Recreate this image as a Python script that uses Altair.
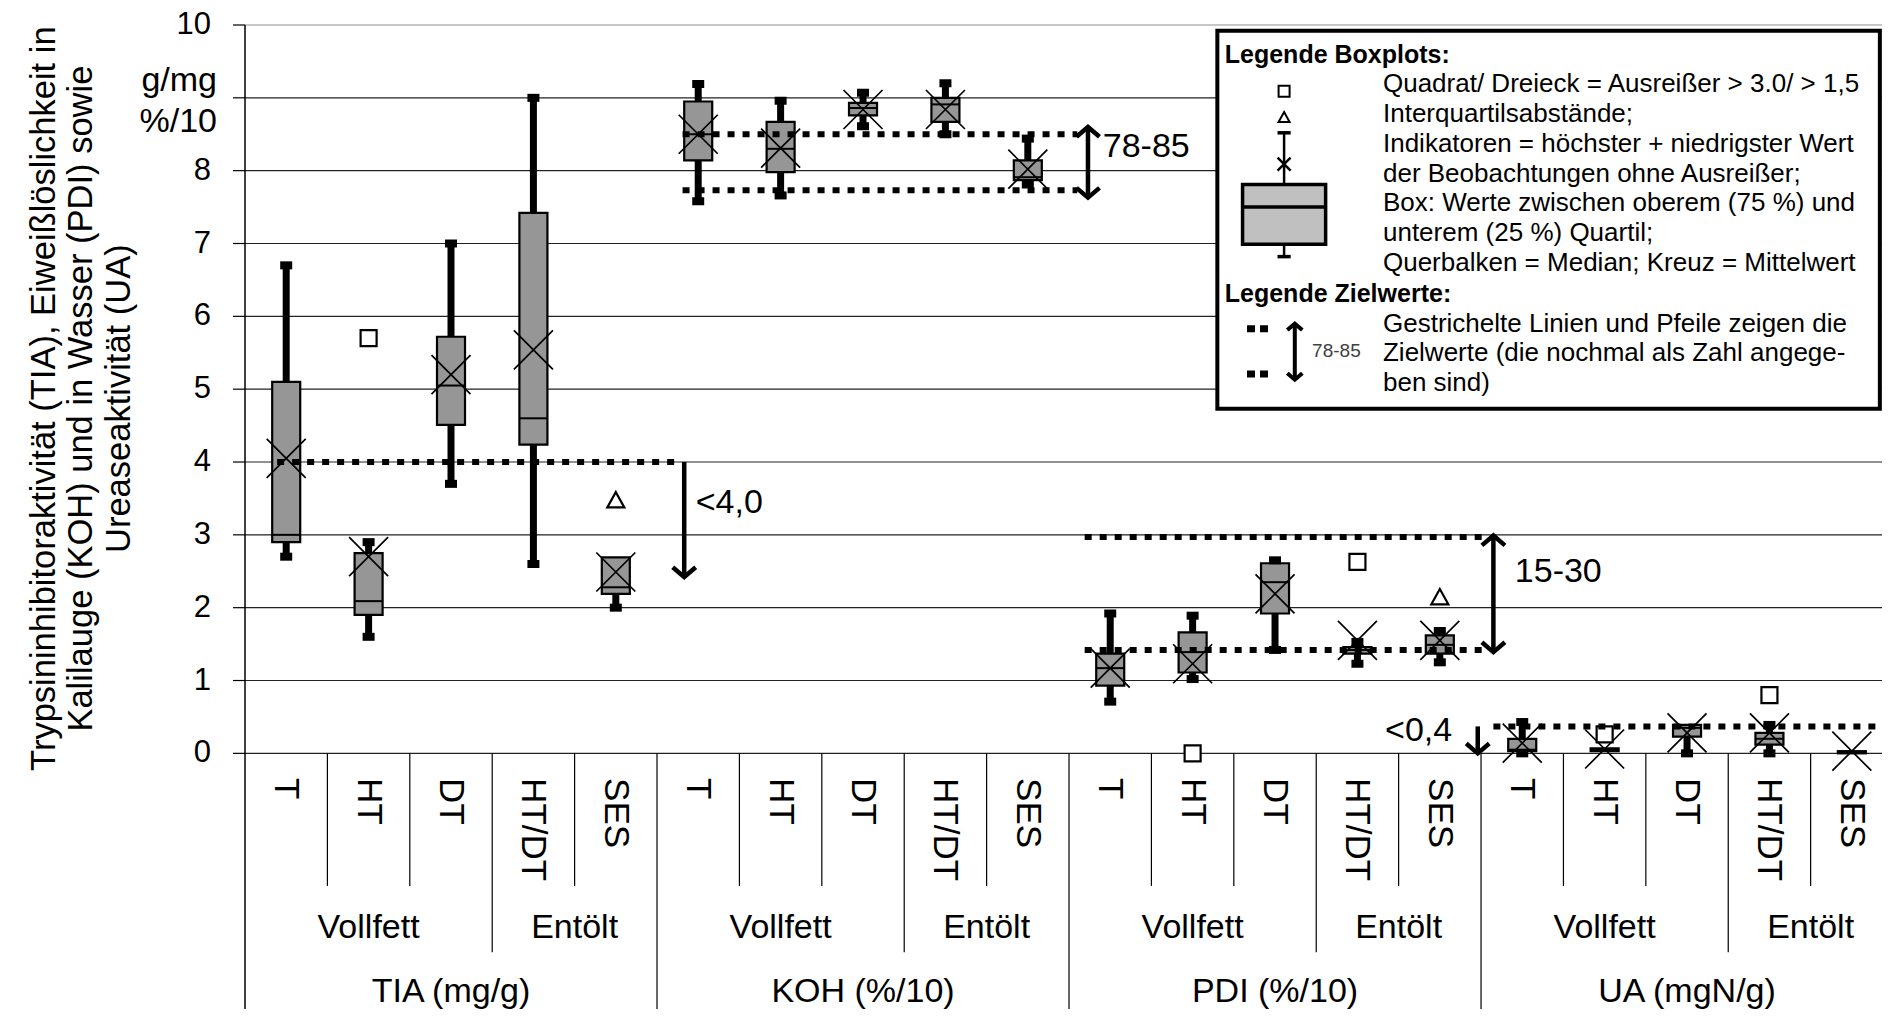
import altair as alt
import pandas as pd

# ---------------- categories ----------------
measures = ["TIA (mg/g)", "KOH (%/10)", "PDI (%/10)", "UA (mgN/g)"]
treatments = ["T", "HT", "DT", "HT/DT", "SES"]
fat_groups = ["Vollfett", "Entölt"]

# ---------------- boxplot statistics (measure x treatment, 20 boxes) ----------------
whisker_low = [2.7, 1.6, 3.7, 2.6, 2.0,
               7.58, 7.66, 8.61, 8.5, 7.81,
               0.71, 1.02, 1.42, 1.23, 1.25,
               0.0, 0.03, 0.0, 0.0, 0.0]
quart1 = [2.9, 1.9, 4.51, 4.24, 2.19,
          8.14, 7.98, 8.76, 8.67, 7.87,
          0.93, 1.11, 1.92, 1.37, 1.37,
          0.03, 0.03, 0.23, 0.12, 0.0]
median = [3.0, 2.09, 5.05, 4.6, 2.28,
          8.5, 8.3, 8.86, 8.91, 7.91,
          1.17, 1.39, 2.35, 1.42, 1.49,
          0.05, 0.05, 0.35, 0.2, 0.02]
quart3 = [5.1, 2.75, 5.72, 7.42, 2.69,
          8.95, 8.67, 8.93, 9.0, 8.14,
          1.37, 1.66, 2.61, 1.46, 1.62,
          0.2, 0.07, 0.39, 0.28, 0.03]
whisker_high = [6.7, 2.9, 7.0, 9.0, 2.69,
                9.19, 8.96, 9.07, 9.2, 8.44,
                1.92, 1.89, 2.65, 1.53, 1.68,
                0.43, 0.07, 0.39, 0.39, 0.03]
mean_val = [4.05, 2.7, 5.2, 5.54, 2.49,
            8.5, 8.31, 8.84, 8.84, 8.02,
            1.17, 1.23, 2.19, 1.55, 1.55,
            0.14, 0.06, 0.28, 0.28, 0.03]

# outliers (box index, value)
extreme_box = [1, 11, 13, 16, 18]
extreme_val = [5.7, 0.0, 2.63, 0.26, 0.8]
mild_box = [4, 14]
mild_val = [3.47, 2.14]

# ---------------- target values (Zielwerte) ----------------
target_y = [4.0, 8.5, 7.73, 2.97, 1.42, 0.37]
target_from = [0.39, 5.31, 5.31, 10.19, 10.19, 15.15]
target_to = [5.23, 10.1, 10.1, 15.02, 15.02, 19.86]

arrow_x = [5.33, 10.23, 15.15, 14.96]
arrow_start = [4.0, 8.6, 2.99, 0.37]
arrow_end = [2.42, 7.63, 1.39, 0.0]
arrow_double = [False, True, True, False]

target_text = ["<4,0", "78-85", "15-30", "<0,4"]
target_text_x = [5.47, 10.41, 15.41, 14.65]
target_text_y = [3.44, 8.32, 2.49, 0.30]
target_text_right = [False, False, False, True]

y_ticks = list(range(0, 11))
y_tick_labels = ["0", "1", "2", "3", "4", "5", "6", "7", "8", "", "10"]
y_unit_labels = ["g/mg", "%/10"]
y_title = ["Trypsininhibitoraktivität  (TIA), Eiweißlöslichkeit  in",
           "Kalilauge (KOH) und in Wasser (PDI) sowie",
           "Ureaseaktivität (UA)"]

legend_lines_box = ["Quadrat/ Dreieck = Ausreißer > 3.0/  > 1,5",
                    "Interquartilsabstände;",
                    "Indikatoren = höchster + niedrigster Wert",
                    "der Beobachtungen ohne Ausreißer;",
                    "Box: Werte zwischen oberem (75 %)  und",
                    "unterem (25 %) Quartil;",
                    "Querbalken = Median; Kreuz = Mittelwert"]
legend_lines_target = ["Gestrichelte Linien und Pfeile zeigen die",
                       "Zielwerte (die nochmal als Zahl angege-",
                       "ben sind)"]
legend_heads = ["Legende Boxplots:", "Legende Zielwerte:"]

# ---------------- build tables ----------------
n = len(median)
pos = [i + 0.5 for i in range(n)]
box_df = pd.DataFrame(dict(pos=pos, wl=whisker_low, q1=quart1, med=median,
                           q3=quart3, wh=whisker_high, mean=mean_val))
cap_rows = []
for i in range(n):
    if whisker_low[i] < quart1[i]:
        cap_rows.append(dict(pos=pos[i], v=whisker_low[i]))
    if whisker_high[i] > quart3[i]:
        cap_rows.append(dict(pos=pos[i], v=whisker_high[i]))
cap_df = pd.DataFrame(cap_rows)
ext_df = pd.DataFrame(dict(pos=[pos[i] for i in extreme_box], v=extreme_val))
mild_df = pd.DataFrame(dict(pos=[pos[i] for i in mild_box], v=mild_val))

tgt_df = pd.DataFrame(dict(x1=target_from, x2=target_to, y=target_y))
arr_df = pd.DataFrame(dict(x=arrow_x, y1=arrow_start, y2=arrow_end))
head_rows = []
for i in range(len(arrow_x)):
    head_rows.append(dict(x=arrow_x[i], y=arrow_end[i], ang=0))
    if arrow_double[i]:
        head_rows.append(dict(x=arrow_x[i], y=arrow_start[i], ang=180))
head_df = pd.DataFrame(head_rows)
ttxt = pd.DataFrame(dict(t=target_text, x=target_text_x, y=target_text_y, r=target_text_right))

# ---------------- scales / helpers ----------------
XMAX = 19.866
ROW1_Y, ROW2_Y, ROW3_Y, BOTTOM = -0.34, -2.40, -3.28, -3.51
XS = alt.Scale(domain=[0, XMAX], nice=False, zero=False)
YS = alt.Scale(domain=[BOTTOM, 10], nice=False, zero=False)
FONT = "Liberation Sans"
PX_X = 1 / 82.4     # one pixel in x units (layout helper)


def X(f):
    return alt.X(f, type="quantitative", scale=XS, axis=None)


def Y(f):
    return alt.Y(f, type="quantitative", scale=YS, axis=None)


CAP = "M-1.5,-1L1.5,-1L1.5,1L-1.5,1Z"
XMARK = "M-1,-1L1,1M-1,1L1,-1"
SQUARE = "M-1,-1L1,-1L1,1L-1,1Z"
TRI = "M0,-1L1,0.8L-1,0.8Z"
CHEV = "M-1,-0.85L0,0L1,-0.85"

# ---------------- y axis (grid, ticks, labels, domain, title) ----------------
ax_df = pd.DataFrame(dict(v=y_ticks, lab=y_tick_labels))
ax_df["g0"] = 0.0
ax_df["g1"] = XMAX
ax_df["t0"] = -12 * PX_X
ax_df["lx"] = -34 * PX_X
ax_df["top"] = ax_df["v"] == 10
grid = alt.Chart(ax_df).mark_rule(strokeWidth=1.2).encode(
    x=X("g0"), x2="g1:Q", y=Y("v"),
    color=alt.condition("datum.top", alt.value("#909090"), alt.value("#222222")))
ticks = alt.Chart(ax_df).mark_rule(color="black", strokeWidth=1.2).encode(
    x=X("t0"), x2="g0:Q", y=Y("v"))
tlabels = alt.Chart(ax_df).mark_text(fontSize=31, align="right", baseline="middle",
                                     color="black").encode(x=X("lx"), y=Y("v"), text="lab:N")
domain = alt.Chart(pd.DataFrame(dict(x=[0.0], a=[BOTTOM], b=[10.0]))).mark_rule(
    color="black", strokeWidth=1.5).encode(x=X("x"), y=Y("a"), y2="b:Q")
unit_lbl = alt.Chart(pd.DataFrame(dict(t=y_unit_labels, x=[-28 * PX_X] * 2, y=[9.23, 8.67]))).mark_text(
    fontSize=34, align="right", baseline="middle", color="black").encode(
    x=X("x"), y=Y("y"), text="t:N")
title_df = pd.DataFrame(dict(t=y_title, x=[-200 * PX_X, -163 * PX_X, -125 * PX_X], y=[4.87] * 3))
ytitle = alt.Chart(title_df).mark_text(fontSize=34.5, angle=270, align="center", baseline="middle",
                                       color="black").encode(x=X("x"), y=Y("y"), text="t:N")

# ---------------- boxplots ----------------
whisk = alt.Chart(box_df).mark_rule(color="black", strokeWidth=7).encode(
    x=X("pos"), y=Y("wl"), y2="wh:Q")
boxes = alt.Chart(box_df).transform_calculate(
    xl="datum.pos - 0.17", xr="datum.pos + 0.17"
).mark_rect(fill="#969696", stroke="black", strokeWidth=2.2).encode(
    x=X("xl"), x2="xr:Q", y=Y("q1"), y2="q3:Q")
meds = alt.Chart(box_df).transform_calculate(
    xl="datum.pos - 0.17", xr="datum.pos + 0.17"
).mark_rule(color="black", strokeWidth=2).encode(x=X("xl"), x2="xr:Q", y=Y("med"))
caps = alt.Chart(cap_df).mark_point(shape=CAP, size=64, filled=True, fill="black",
                                    opacity=1, strokeWidth=0).encode(x=X("pos"), y=Y("v"))
means = alt.Chart(box_df).mark_point(shape=XMARK, size=1521, filled=False, stroke="black",
                                     strokeWidth=1.7, opacity=1).encode(x=X("pos"), y=Y("mean"))
ext = alt.Chart(ext_df).mark_point(shape=SQUARE, size=256, filled=True, fill="white",
                                   stroke="black", strokeWidth=2.2, opacity=1).encode(x=X("pos"), y=Y("v"))
mild = alt.Chart(mild_df).mark_point(shape=TRI, size=289, filled=True, fill="white",
                                     stroke="black", strokeWidth=2.2, opacity=1).encode(x=X("pos"), y=Y("v"))

# ---------------- targets ----------------
tgt = alt.Chart(tgt_df).mark_rule(color="black", strokeWidth=6, strokeDash=[7, 8],
                                  strokeCap="butt").encode(x=X("x1"), x2="x2:Q", y=Y("y"))
shaft = alt.Chart(arr_df).mark_rule(color="black", strokeWidth=4.5).encode(
    x=X("x"), y=Y("y1"), y2="y2:Q")
heads = alt.Chart(head_df).mark_point(shape=CHEV, size=529, filled=False, stroke="black",
                                      strokeWidth=4.5, opacity=1).encode(
    x=X("x"), y=Y("y"), angle=alt.Angle("ang:Q", scale=None))
ttxt_l = alt.Chart(ttxt).transform_filter("!datum.r").mark_text(
    fontSize=34, align="left", baseline="middle", color="black").encode(
    x=X("x"), y=Y("y"), text="t:N")
ttxt_r = alt.Chart(ttxt).transform_filter("datum.r").mark_text(
    fontSize=34, align="right", baseline="middle", color="black").encode(
    x=X("x"), y=Y("y"), text="t:N")

# ---------------- x-axis hierarchy (below the plot) ----------------
cat_df = pd.DataFrame(dict(t=[treatments[i % 5] for i in range(n)], x=pos, y=[ROW1_Y] * n))
grp_rows = []
for m in range(len(measures)):
    grp_rows.append(dict(t=fat_groups[0], x=m * 5 + 1.5, y=ROW2_Y))
    grp_rows.append(dict(t=fat_groups[1], x=m * 5 + 4.0, y=ROW2_Y))
grp_df = pd.DataFrame(grp_rows)
meas_df = pd.DataFrame(dict(t=measures, x=[m * 5 + 2.5 for m in range(4)], y=[ROW3_Y] * 4))
sep_rows = []
for b in range(1, n):
    end = BOTTOM if b % 5 == 0 else (-2.73 if b % 5 == 3 else -1.82)
    sep_rows.append(dict(x=b, y1=0, y2=end))
sep_df = pd.DataFrame(sep_rows)

seps = alt.Chart(sep_df).mark_rule(color="black", strokeWidth=1.2).encode(
    x=X("x"), y=Y("y1"), y2="y2:Q")
cats = alt.Chart(cat_df).mark_text(fontSize=35, angle=90, align="left", baseline="middle",
                                   color="black").encode(x=X("x"), y=Y("y"), text="t:N")
grps = alt.Chart(grp_df).mark_text(fontSize=34, align="center", baseline="middle",
                                   color="black").encode(x=X("x"), y=Y("y"), text="t:N")
meas = alt.Chart(meas_df).mark_text(fontSize=34, align="center", baseline="middle",
                                    color="black").encode(x=X("x"), y=Y("y"), text="t:N")

# ---------------- legend box ----------------
LX0, LX1, LY0, LY1 = 11.80, 19.84, 9.92, 4.73
leg_rect = alt.Chart(pd.DataFrame([dict(a=LX0, b=LX1, c=LY0, d=LY1)])).mark_rect(
    fill="white", stroke="black", strokeWidth=4).encode(x=X("a"), x2="b:Q", y=Y("c"), y2="d:Q")
head_df2 = pd.DataFrame(dict(t=legend_heads, x=[11.89, 11.89], y=[9.59, 6.31]))
leg_heads = alt.Chart(head_df2).mark_text(fontSize=25, fontWeight="bold", align="left",
                                          baseline="middle", color="black").encode(
    x=X("x"), y=Y("y"), text="t:N")
STEP = 30 / 73.2
lines = [dict(t=s, x=13.81, y=9.19 - k * STEP) for k, s in enumerate(legend_lines_box)]
lines += [dict(t=s, x=13.81, y=5.90 - k * STEP) for k, s in enumerate(legend_lines_target)]
leg_lines = alt.Chart(pd.DataFrame(lines)).mark_text(
    fontSize=26, align="left", baseline="middle", color="black").encode(
    x=X("x"), y=Y("y"), text="t:N")

ICX = 12.61
ic_box = alt.Chart(pd.DataFrame([dict(a=ICX - 0.504, b=ICX + 0.504, c=7.81, d=6.99)])).mark_rect(
    fill="#c0c0c0", stroke="black", strokeWidth=3.5).encode(x=X("a"), x2="b:Q", y=Y("c"), y2="d:Q")
ic_whisk = alt.Chart(pd.DataFrame([dict(x=ICX, a=8.52, b=7.81), dict(x=ICX, a=6.99, b=6.82)])).mark_rule(
    color="black", strokeWidth=2.5).encode(x=X("x"), y=Y("a"), y2="b:Q")
ic_hlines = alt.Chart(pd.DataFrame([
    dict(a=ICX - 0.08, b=ICX + 0.08, y=8.52),
    dict(a=ICX - 0.08, b=ICX + 0.08, y=6.82),
    dict(a=ICX - 0.504, b=ICX + 0.504, y=7.50),
])).mark_rule(color="black", strokeWidth=3.5).encode(x=X("a"), x2="b:Q", y=Y("y"))
ic_sq = alt.Chart(pd.DataFrame([dict(x=ICX, y=9.09)])).mark_point(
    shape=SQUARE, size=121, filled=True, fill="white", stroke="black", strokeWidth=2,
    opacity=1).encode(x=X("x"), y=Y("y"))
ic_tri = alt.Chart(pd.DataFrame([dict(x=ICX, y=8.73)])).mark_point(
    shape=TRI, size=121, filled=True, fill="white", stroke="black", strokeWidth=2,
    opacity=1).encode(x=X("x"), y=Y("y"))
ic_x = alt.Chart(pd.DataFrame([dict(x=ICX, y=8.09)])).mark_point(
    shape=XMARK, size=169, filled=False, stroke="black", strokeWidth=2.5,
    opacity=1).encode(x=X("x"), y=Y("y"))
ic_dots = alt.Chart(pd.DataFrame([dict(a=12.16, b=12.42, y=5.83), dict(a=12.16, b=12.42, y=5.21)])).mark_rule(
    color="black", strokeWidth=7, strokeDash=[8, 5], strokeCap="butt").encode(x=X("a"), x2="b:Q", y=Y("y"))
ic_shaft = alt.Chart(pd.DataFrame([dict(x=12.74, a=5.90, b=5.13)])).mark_rule(
    color="black", strokeWidth=4).encode(x=X("x"), y=Y("a"), y2="b:Q")
ic_heads = alt.Chart(pd.DataFrame([dict(x=12.74, y=5.13, ang=0), dict(x=12.74, y=5.90, ang=180)])).mark_point(
    shape=CHEV, size=225, filled=False, stroke="black", strokeWidth=4, opacity=1).encode(
    x=X("x"), y=Y("y"), angle=alt.Angle("ang:Q", scale=None))
ic_txt = alt.Chart(pd.DataFrame([dict(x=12.95, y=5.52, t="78-85")])).mark_text(
    fontSize=19, align="left", baseline="middle", color="#404040").encode(
    x=X("x"), y=Y("y"), text="t:N")

chart = alt.layer(
    grid, ticks, tlabels, domain, unit_lbl, ytitle,
    whisk, boxes, meds, caps, means, ext, mild,
    tgt, shaft, heads, ttxt_l, ttxt_r,
    seps, cats, grps, meas,
    leg_rect, leg_heads, leg_lines,
    ic_whisk, ic_box, ic_hlines, ic_sq, ic_tri, ic_x, ic_dots, ic_shaft, ic_heads, ic_txt,
).properties(
    width=1637, height=984,
    autosize=alt.AutoSizeParams(type="none"),
    padding={"left": 237, "top": 17, "right": 0, "bottom": 0},
).configure(font=FONT, background="white").configure_view(stroke=None)

chart.save("out.html", embed_options={"renderer": "svg", "actions": False})
